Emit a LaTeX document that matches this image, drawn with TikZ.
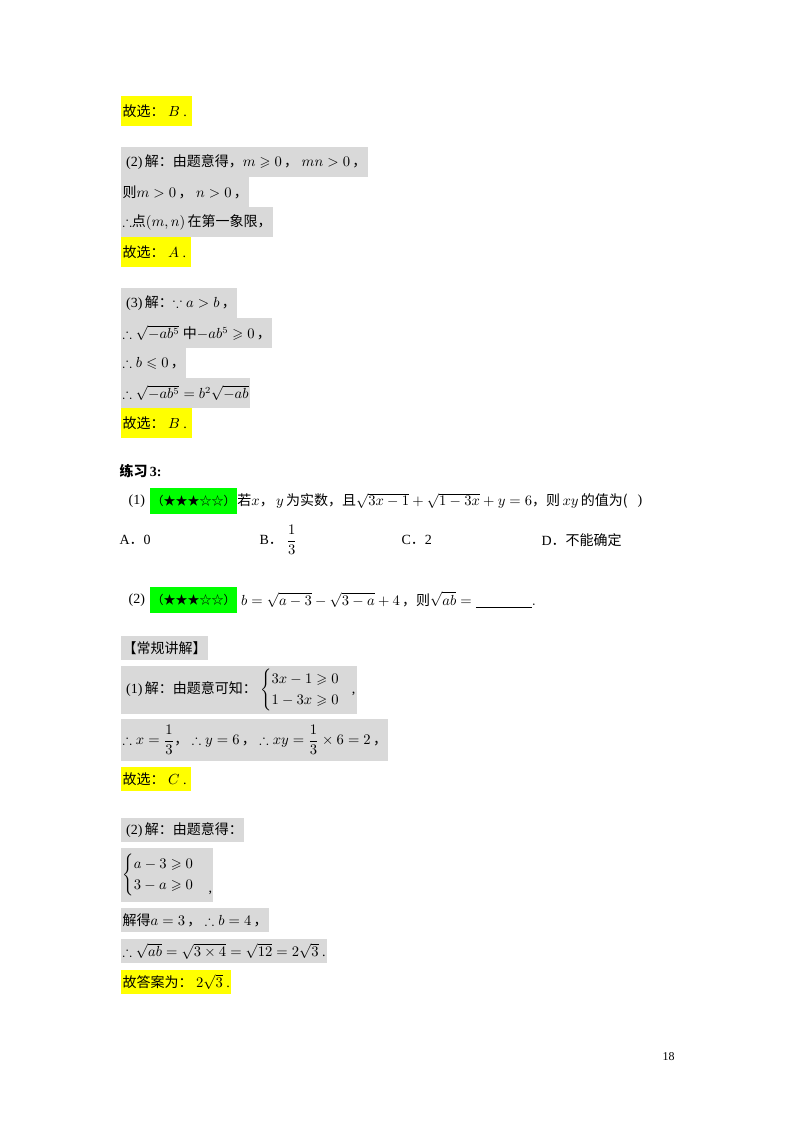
\documentclass[tikz,border=0pt]{standalone}
\usepackage{amsmath,amssymb}
\usepackage{fontspec}
\setmainfont{Liberation Serif}
\newfontfamily\cjk{Noto Sans CJK SC}
\newcommand{\zh}[1]{{\cjk #1}}
\definecolor{gbox}{HTML}{D9D9D9}
\definecolor{ybox}{HTML}{FFFF00}
\definecolor{grbox}{HTML}{00FF00}
\begin{document}
\begin{tikzpicture}[x=0.75pt,y=-0.75pt,
  every node/.style={font=\fontsize{10.5}{13}\selectfont,inner xsep=1pt,inner ysep=0pt},
  G/.style={fill=gbox,anchor=west,minimum height=22.5pt},
  Y/.style={fill=ybox,anchor=west,minimum height=22.5pt},
  T/.style={anchor=west},
  GR/.style={fill=grbox,anchor=west,minimum height=19pt,font=\fontsize{9}{11}\selectfont}]
\useasboundingbox[fill=white] (0,0) rectangle (800,1132);
\node[Y] (s1) at (121,111) {\zh{故选：}\ $B$\ .\ \ };
\node[G] (a1) at (121,162) {\ (2)\,\zh{解：由题意得，}$m\geqslant0$\,\zh{，}\ $mn>0$\,\zh{，}};
\node[G] (a2) at (121,192) {\zh{则}$m>0$\,\zh{，}\ $n>0$\,\zh{，}};
\node[G] (a3) at (121,222) {$\therefore$\zh{点}$(m,n)$\,\zh{在第一象限，}};
\node[Y] (s2) at (121,252) {\zh{故选：}\ $A$\ .\ \ };
\node[G] (b1) at (121,303) {\ (3)\,\zh{解：}$\because a>b$\,\zh{，}};
\node[G] (b2) at (121,333) {$\therefore\sqrt{-ab^5}$\ \zh{中}$-ab^5\geqslant0$\,\zh{，}};
\node[G] (b3) at (121,363) {$\therefore b\leqslant0$\,\zh{，}};
\node[G] (b4) at (121,393) {$\therefore\sqrt{-ab^5}=b^2\sqrt{-ab}$};
\node[Y] (s3) at (121,423) {\zh{故选：}\ $B$\ .\ \ };
\node[T] (ex) at (118,471) {\textbf{\zh{练习}\,3:}};
\node[T] (q1n) at (127,501) {(1)};
\node[GR] (st1) at (150,501) {\zh{（★★★☆☆）}};
\node[T,inner xsep=0pt] (q1) at (st1.east) {\zh{若}$x$\zh{，}\,$y$\,\zh{为实数，且}$\sqrt{3x-1}+\sqrt{1-3x}+y=6$\zh{，则}\,$xy$\,\zh{的值为(}};
\node[T] (q1p) at (636,501) {)};
\node[T] (oA) at (118,540) {A\zh{．}0};
\node[T] (oB) at (258,540) {B\zh{．}\ $\dfrac{1}{3}$};
\node[T] (oC) at (400,540) {C\zh{．}2};
\node[T] (oD) at (540,540) {D\zh{．不能确定}};
\node[T] (q2n) at (127,600) {(2)};
\node[GR] (st2) at (150,600) {\zh{（★★★☆☆）}};
\node[T] (q2) at (st2.east) {\,$b=\sqrt{a-3}-\sqrt{3-a}+4$\,\zh{，则}$\sqrt{ab}=\underline{\hspace{4em}}.$};
\node[G,minimum height=18pt] (h) at (121,648) {\zh{【常规讲解】}};
\node[G,minimum height=36pt] (c1) at (121,690) {\ (1)\,\zh{解：由题意可知：}\ $\begin{cases}3x-1\geqslant0\\1-3x\geqslant0\end{cases}$\!,\ };
\node[G,minimum height=31pt] (c2) at (121,740) {$\therefore x=\dfrac13$\zh{，}\ $\therefore y=6$\,\zh{，}\ $\therefore xy=\dfrac13\times6=2$\,\zh{，}};
\node[Y,minimum height=18pt] (s4) at (121,779) {\zh{故选：}\ $C$\ .\ \ };
\node[G,minimum height=18pt] (d1) at (121,830) {\ (2)\,\zh{解：由题意得：}};
\node[G,minimum height=40pt] (d2) at (121,875) {$\begin{cases}a-3\geqslant0\\3-a\geqslant0\end{cases}$\raisebox{-2.2ex}{,}\ };
\node[G,minimum height=18pt] (d3) at (121,920) {\zh{解得}$a=3$\,\zh{，}\ $\therefore b=4$\,\zh{，}};
\node[G,minimum height=18pt] (d4) at (121,951) {$\therefore\sqrt{ab}=\sqrt{3\times4}=\sqrt{12}=2\sqrt3$\ .\ };
\node[Y,minimum height=18pt] (s5) at (121,982) {\zh{故答案为：}\ $2\sqrt3$\ .\ };
\node[T,font=\fontsize{9}{10}\selectfont] (pg) at (661,1057) {18};
\end{tikzpicture}
\end{document}
